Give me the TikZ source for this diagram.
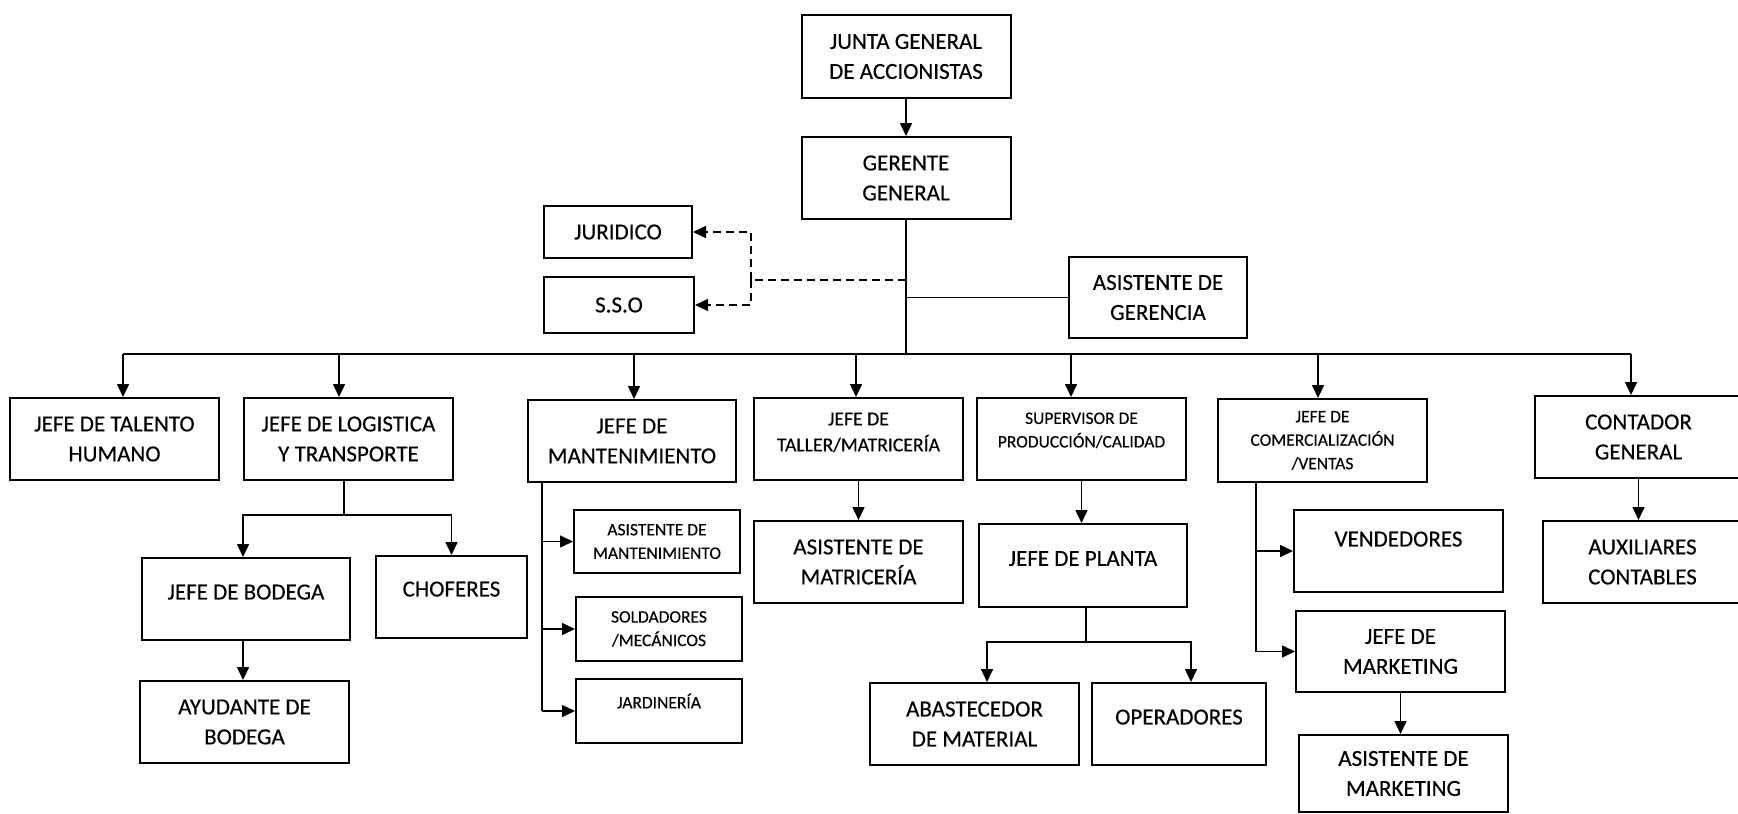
\documentclass[tikz,border=0pt]{standalone}
\usepackage{fontspec}
\setmainfont{Carlito}[FakeBold=0.3]
\usetikzlibrary{arrows.meta}

\newcommand\mainsz{\fontsize{23}{30}\selectfont}
\newcommand\midsz{\fontsize{19.7}{26}\selectfont}
\newcommand\smallsz{\fontsize{17.5}{23.5}\selectfont}

\tikzset{
  sz/.style 2 args={minimum width=#1pt,minimum height=#2pt},
  up/.style={text depth=#1pt},
  link/.style={line width=1.6pt},
  arr/.style={link,-{Triangle[length=13pt,width=12pt]}},
  dashlink/.style={link,dash pattern=on 8pt off 5pt},
}

\begin{document}
\begin{tikzpicture}[x=1pt,y=-1pt]
\useasboundingbox (0,0) rectangle (1738,814);
\begin{scope}[every node/.style={draw,line width=2pt,inner sep=0pt,align=center,font=\mainsz}]
    \node[sz={209}{83}] (junta) at (906,56.5) {JUNTA GENERAL\\DE ACCIONISTAS};
    \node[sz={209}{82}] (gerente) at (906,178) {GERENTE\\GENERAL};
    \node[sz={148}{52}] (juridico) at (618,232) {JURIDICO};
    \node[sz={150}{56}] (sso) at (619,305) {S.S.O};
    \node[sz={178}{81}] (asisger) at (1158,297.5) {ASISTENTE DE\\GERENCIA};
    % jefaturas
    \node[sz={209}{82}] (talento) at (114.5,439) {JEFE DE TALENTO\\HUMANO};
    \node[sz={209}{82}] (logistica) at (348.5,439) {JEFE DE LOGISTICA\\Y TRANSPORTE};
    \node[sz={208}{82}] (mant) at (632,441) {JEFE DE\\MANTENIMIENTO};
    \node[sz={209}{82},font=\midsz,up=14] (taller) at (858.5,439) {JEFE DE\\TALLER/MATRICERÍA};
    \node[sz={209}{82},font=\smallsz,up=18] (superv) at (1081.5,439) {SUPERVISOR DE\\PRODUCCIÓN/CALIDAD};
    \node[sz={209}{83},font=\smallsz] (comer) at (1322.5,440.5) {JEFE DE\\COMERCIALIZACIÓN\\/VENTAS};
    \node[sz={207}{82}] (contador) at (1638.5,437) {CONTADOR\\GENERAL};
    % subordinados
    \node[sz={208}{82},up=14] (bodega) at (246,599) {JEFE DE BODEGA};
    \node[sz={151}{82},up=16] (choferes) at (451.5,597) {CHOFERES};
    \node[sz={209}{82}] (ayudante) at (244.5,722) {AYUDANTE DE\\BODEGA};
    \node[sz={166}{63},font=\smallsz] (asmant) at (657,541.5) {ASISTENTE DE\\MANTENIMIENTO};
    \node[sz={166}{64},font=\smallsz] (soldad) at (659,629) {SOLDADORES\\/MECÁNICOS};
    \node[sz={166}{64},font=\smallsz,up=20] (jardin) at (659,711) {JARDINERÍA};
    \node[sz={209}{82}] (asmatr) at (858.5,562) {ASISTENTE DE\\MATRICERÍA};
    \node[sz={208}{83},up=14] (planta) at (1083,565.5) {JEFE DE PLANTA};
    \node[sz={209}{82}] (abast) at (974.5,724) {ABASTECEDOR\\DE MATERIAL};
    \node[sz={174}{82},up=14] (operad) at (1179,724) {OPERADORES};
    \node[sz={209}{82},up=24] (vend) at (1398.5,551) {VENDEDORES};
    \node[sz={209}{81}] (jmark) at (1400.5,651.5) {JEFE DE\\MARKETING};
    \node[sz={209}{77}] (asmark) at (1403.5,773.5) {ASISTENTE DE\\MARKETING};
    \node[sz={199}{82}] (aux) at (1642.5,562) {AUXILIARES\\CONTABLES};
\end{scope}
\coordinate (bus) at (906,354);
\coordinate (dsplit) at (751,280);
\coordinate (lsplit) at (344,515);
\coordinate (mline) at (542,0);
\coordinate (psplit) at (1086,642);
\coordinate (cline) at (1256,0);
% linea de mando
\draw[arr] (junta) -- (gerente);
\draw[link] (gerente) -- (bus);
\draw[link] (bus |- asisger) -- (asisger);
\draw[dashlink] (bus |- dsplit) -- (dsplit);
\draw[dashlink,-{Triangle[length=13pt,width=12pt]}] (dsplit) |- (juridico);
\draw[dashlink,-{Triangle[length=13pt,width=12pt]}] (dsplit) |- (sso);
\draw[link] ([xshift=8.5pt]talento.north |- bus) -- ([xshift=-7.5pt]contador.north |- bus);
\foreach \n/\dx in {talento/8.5,logistica/-9.5,mant/2,taller/-2.5,superv/-10.5,comer/-4.5,contador/-7.5}
    \draw[arr] ([xshift=\dx pt]\n.north |- bus) -- ([xshift=\dx pt]\n.north);
% logistica
\draw[link] (logistica.south -| lsplit) -- (lsplit);
\draw[arr] (lsplit) -| ([xshift=-3pt]bodega.north);
\draw[arr] (lsplit) -| (choferes);
\draw[arr] ([xshift=-3pt]bodega.south) -- ([xshift=-3pt]bodega.south |- ayudante.north);
% mantenimiento
\draw[link] (mant.south -| mline) -- (jardin -| mline);
\foreach \n in {asmant,soldad,jardin}
    \draw[arr] (\n -| mline) -- (\n);
% taller y produccion
\draw[arr] (taller) -- (asmatr);
\draw[arr] (superv.south) -- (superv.south |- planta.north);
\draw[link] (planta.south -| psplit) -- (psplit);
\draw[arr] (psplit) -| ([xshift=12.5pt]abast.north);
\draw[arr] (psplit) -| ([xshift=12pt]operad.north);
% ventas
\draw[link] (comer.south -| cline) -- (jmark -| cline);
\foreach \n in {vend,jmark}
    \draw[arr] (\n -| cline) -- (\n);
\draw[arr] (jmark.south) -- (jmark.south |- asmark.north);
% contabilidad
\draw[arr] (contador.south) -- (contador.south |- aux.north);
\end{tikzpicture}
\end{document}
